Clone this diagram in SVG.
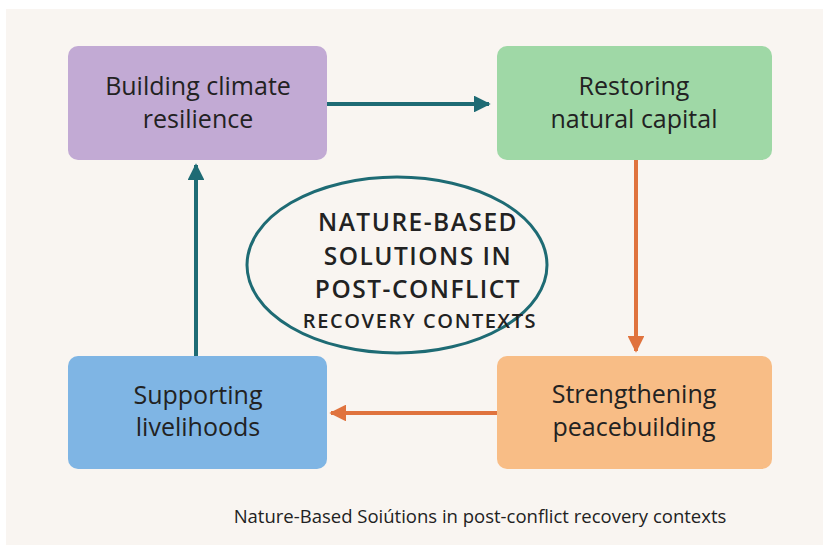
<svg xmlns="http://www.w3.org/2000/svg" width="823" height="545" viewBox="0 0 823 545">
<defs>
<style>
.box-text{font-family:"Open Sans","Noto Sans",sans-serif;font-size:25px;fill:#222;text-anchor:middle}
.title{font-family:"Open Sans","Noto Sans",sans-serif;font-weight:600;fill:#222;text-anchor:middle}
.teal{stroke:#1e6b74;stroke-width:4;fill:none}
.orange{stroke:#e0733e;stroke-width:4;fill:none}
</style>
<marker id="ah-teal" viewBox="0 0 10 10" refX="9" refY="5" markerWidth="4.2" markerHeight="4.2" markerUnits="strokeWidth" orient="auto"><path d="M0,0 L10,5 L0,10 Z" fill="#1e6b74"/></marker>
<marker id="ah-orange" viewBox="0 0 10 10" refX="9" refY="5" markerWidth="4.2" markerHeight="4.2" markerUnits="strokeWidth" orient="auto"><path d="M0,0 L10,5 L0,10 Z" fill="#e0733e"/></marker>
</defs>
<rect x="0" y="0" width="823" height="545" fill="#ffffff"/>
<rect x="6" y="9" width="817" height="536" fill="#f9f5f1"/>
<g id="connectors">
<line class="teal" x1="327" y1="104" x2="489" y2="104" marker-end="url(#ah-teal)"/>
<line class="orange" x1="636" y1="160" x2="636" y2="351" marker-end="url(#ah-orange)"/>
<line class="orange" x1="497" y1="413" x2="331" y2="413" marker-end="url(#ah-orange)"/>
<line class="teal" x1="196" y1="356" x2="196" y2="165" marker-end="url(#ah-teal)"/>
</g>
<g id="center">
<ellipse cx="397" cy="265" rx="150" ry="88" fill="#f9f5f1" stroke="#1e6b74" stroke-width="3"/>
<text class="title" x="418" y="231" font-size="24.5" letter-spacing="1.5">NATURE-BASED</text>
<text class="title" x="418" y="264.5" font-size="24.5" letter-spacing="1.5">SOLUTIONS IN</text>
<text class="title" x="418" y="298" font-size="24.5" letter-spacing="1.5">POST-CONFLICT</text>
<text class="title" x="420" y="328" font-size="20" letter-spacing="1.6">RECOVERY CONTEXTS</text>
</g>
<g id="node-climate">
<rect x="68" y="46" width="259" height="114" rx="10" fill="#c2aad4"/>
<text class="box-text" x="198" y="95">Building climate</text>
<text class="box-text" x="198" y="128">resilience</text>
</g>
<g id="node-natural">
<rect x="497" y="46" width="275" height="114" rx="10" fill="#9fd8a6"/>
<text class="box-text" x="634" y="95">Restoring</text>
<text class="box-text" x="634" y="128">natural capital</text>
</g>
<g id="node-livelihoods">
<rect x="68" y="356" width="259" height="113" rx="10" fill="#7fb5e4"/>
<text class="box-text" x="198" y="404">Supporting</text>
<text class="box-text" x="198" y="436">livelihoods</text>
</g>
<g id="node-peace">
<rect x="497" y="356" width="275" height="113" rx="10" fill="#f8bd86"/>
<text class="box-text" x="634" y="403">Strengthening</text>
<text class="box-text" x="634" y="436">peacebuilding</text>
</g>
<text x="480" y="523" font-family="'Open Sans','Noto Sans',sans-serif" font-size="18.5" fill="#222" text-anchor="middle">Nature-Based Soiútions in post-conflict recovery contexts</text>
</svg>
